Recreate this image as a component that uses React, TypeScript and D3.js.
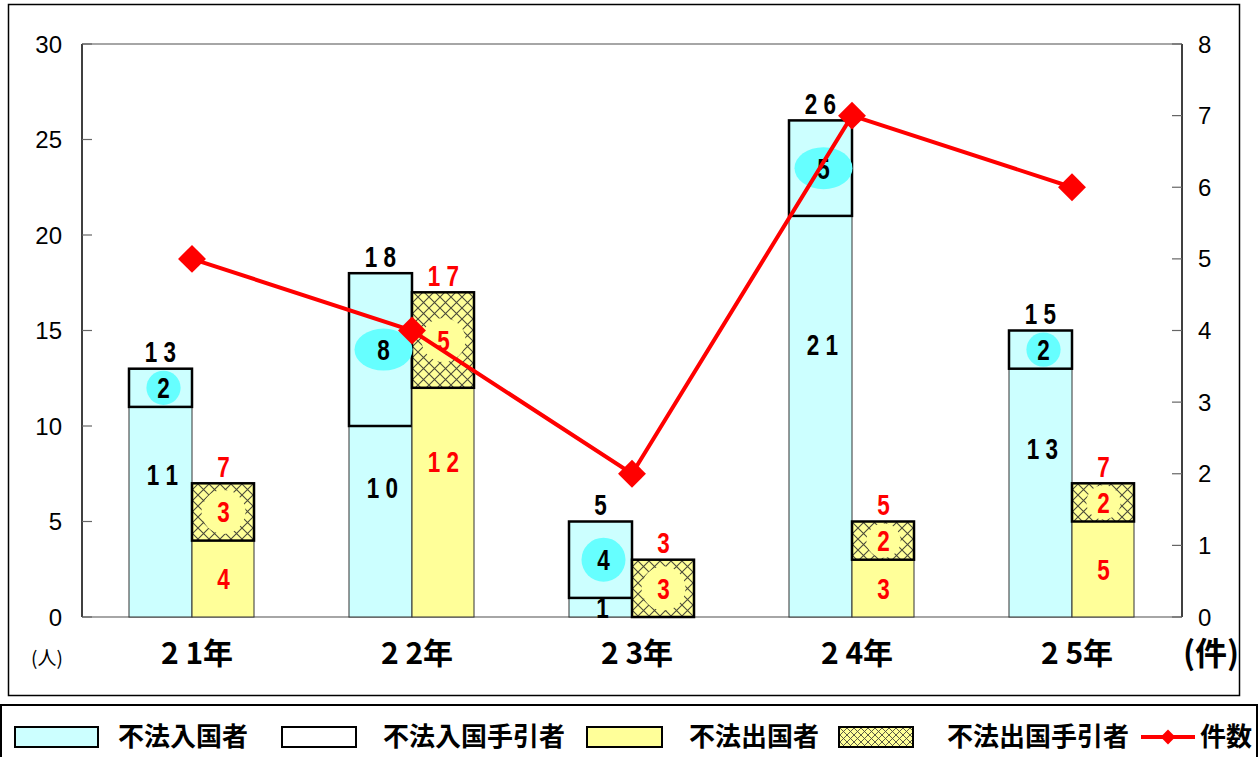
import React from 'react';
import * as d3 from 'd3';

const years = ['21', '22', '23', '24', '25'];
const illegalEntrants = [11, 10, 1, 21, 13];
const entryFacilitators = [2, 8, 4, 5, 2];
const illegalDepartures = [4, 12, 0, 3, 5];
const departureFacilitators = [3, 5, 3, 2, 2];
const caseCounts = [5, 4, 2, 7, 6];
const leftTicks = [0, 5, 10, 15, 20, 25, 30];
const rightTicks = [0, 1, 2, 3, 4, 5, 6, 7, 8];
const legendLabels = ['不法入国者', '不法入国手引者', '不法出国者', '不法出国手引者', '件数'];

const CJK = "'Noto Sans CJK JP', sans-serif";
const SANS = "'Liberation Sans', Arial, sans-serif";

const spaced = (v: number) => String(v).split('').join(' ');

function Num({ x, y, v, color }: { x: number; y: number; v: number; color: string }) {
  // y is visual centre of the digits
  return (
    <text
      transform={`translate(${x},${y + 10.5}) scale(0.75,1)`}
      textAnchor="middle"
      fontFamily={SANS}
      fontWeight="bold"
      fontSize={30}
      fill={color}
    >
      {spaced(v)}
    </text>
  );
}

export default function App() {
  const W = 1259;
  const H = 757;
  const x = d3.scaleBand<string>().domain(years).range([82, 1182]).padding(0);
  const yL = d3.scaleLinear().domain([0, 30]).range([617, 44]);
  const yR = d3.scaleLinear().domain([0, 8]).range([617, 44]);
  const bw = 63;
  const cx = (i: number) => (x(years[i]) as number) + x.bandwidth() / 2;
  const linePath = d3
    .line<number>()
    .x((_, i) => cx(i))
    .y((d) => yR(d))(caseCounts) as string;
  const diamond = d3.symbol().type(d3.symbolSquare).size(390)() as string;
  const smallDiamond = d3.symbol().type(d3.symbolSquare).size(110)() as string;

  return (
    <svg
      width={W}
      height={H}
      style={{ position: 'absolute', left: 0, top: 0, background: '#fff' }}
    >
      <defs>
        <pattern id="hatch" patternUnits="userSpaceOnUse" width={11} height={11}>
          <rect width={11} height={11} fill="#ffff99" />
          <path d="M0,0L11,11M11,0L0,11" stroke="#4a4a3a" strokeWidth={1.1} />
        </pattern>
        <pattern id="hatchSmall" patternUnits="userSpaceOnUse" width={7} height={7}>
          <rect width={7} height={7} fill="#ffff99" />
          <path d="M0,0L7,7M7,0L0,7" stroke="#4a4a3a" strokeWidth={0.9} />
        </pattern>
      </defs>

      {/* chart frame */}
      <rect x={8.5} y={4.5} width={1231} height={691} fill="#fff" stroke="#000" strokeWidth={1.5} />

      {/* plot frame */}
      <line x1={82} x2={1182} y1={44} y2={44} stroke="#888" strokeWidth={1.5} />
      <line x1={82} x2={1182} y1={617} y2={617} stroke="#888" strokeWidth={1.5} />
      <line x1={82} x2={82} y1={44} y2={617} stroke="#000" strokeWidth={1.5} />
      <line x1={1182} x2={1182} y1={44} y2={617} stroke="#000" strokeWidth={1.5} />

      {leftTicks.map((t) => (
        <g key={'l' + t}>
          <line x1={82} x2={92} y1={yL(t)} y2={yL(t)} stroke="#666" strokeWidth={1.2} />
          <text x={62} y={yL(t) + 8.5} textAnchor="end" fontFamily={SANS} fontSize={24} fill="#000">
            {t}
          </text>
        </g>
      ))}
      {rightTicks.map((t) => (
        <g key={'r' + t}>
          <line x1={1172} x2={1182} y1={yR(t)} y2={yR(t)} stroke="#666" strokeWidth={1.2} />
          <text x={1198} y={yR(t) + 8.5} textAnchor="start" fontFamily={SANS} fontSize={24} fill="#000">
            {t}
          </text>
        </g>
      ))}
      <text x={47} y={665} textAnchor="middle" fontFamily={CJK} fontSize={19} fill="#000">
        (人)
      </text>
      <text x={1211} y={665} textAnchor="middle" fontFamily={CJK} fontSize={32} fontWeight="bold" fill="#000">
        (件)
      </text>

      {/* bars */}
      {years.map((yr, i) => {
        const c = cx(i);
        const base1 = illegalEntrants[i];
        const tot1 = base1 + entryFacilitators[i];
        const base2 = illegalDepartures[i];
        const tot2 = base2 + departureFacilitators[i];
        const seg1 = yL(base1) - yL(tot1);
        const seg2 = yL(base2) - yL(tot2);
        const wide = entryFacilitators[i] >= 5;
        return (
          <g key={yr}>
            <rect x={c - bw} y={yL(tot1)} width={bw} height={yL(0) - yL(tot1)} fill="#ccffff" stroke="#333" strokeWidth={1} />
            <rect x={c - bw} y={yL(tot1)} width={bw} height={seg1} fill="none" stroke="#000" strokeWidth={2.5} />
            {base2 > 0 && (
              <rect x={c} y={yL(base2)} width={bw - 1} height={yL(0) - yL(base2)} fill="#ffff99" stroke="#333" strokeWidth={1} />
            )}
            <rect x={c} y={yL(tot2)} width={bw - 1} height={seg2} fill="url(#hatch)" stroke="#000" strokeWidth={2.5} />

            <ellipse
              cx={c - bw / 2 + 3}
              cy={yL(base1 + entryFacilitators[i] / 2)}
              rx={wide ? 29 : Math.min(22, seg1 / 2 - 2)}
              ry={Math.min(wide ? 21 : 22, seg1 / 2 - 2)}
              fill="#66ffff"
            />
            <circle cx={c + bw / 2} cy={yL(base2 + departureFacilitators[i] / 2)} r={Math.min(22, seg2 / 2 - 2)} fill="#ffff99" />

            <Num x={c - bw / 2 + 3} y={yL(base1 + entryFacilitators[i] / 2)} v={entryFacilitators[i]} color="#000" />
            <Num x={c + bw / 2} y={yL(base2 + departureFacilitators[i] / 2)} v={departureFacilitators[i]} color="#ff0000" />
            <Num x={c - bw / 2 + 2} y={yL(base1 > 5 ? base1 * 0.68 : base1 / 2)} v={base1} color="#000" />
            {base2 > 0 && (
              <Num x={c + bw / 2} y={yL(base2 > 5 ? base2 * 0.68 : base2 / 2)} v={base2} color="#ff0000" />
            )}
            <Num x={c - bw / 2} y={yL(tot1) - 17} v={tot1} color="#000" />
            <Num x={c + bw / 2} y={yL(tot2) - 17} v={tot2} color="#ff0000" />

            <text x={c + 5} y={664} textAnchor="middle" fontFamily={CJK} fontWeight="bold" fontSize={30} fill="#000">
              {spaced(Number(yr))}年
            </text>
          </g>
        );
      })}

      {/* line */}
      <path d={linePath} fill="none" stroke="#ff0000" strokeWidth={4} />
      {caseCounts.map((v, i) => (
        <path key={'m' + i} d={diamond} transform={`translate(${cx(i)},${yR(v)}) rotate(45)`} fill="#ff0000" />
      ))}

      {/* legend */}
      <rect x={1} y={705} width={1256} height={60} fill="#fff" stroke="#000" strokeWidth={2} />
      <rect x={15} y={727} width={83} height={20} fill="#ccffff" stroke="#000" strokeWidth={2} />
      <text x={118} y={746} fontFamily={CJK} fontWeight="bold" fontSize={26}>{legendLabels[0]}</text>
      <rect x={282} y={727} width={74} height={20} fill="#fff" stroke="#000" strokeWidth={2} />
      <text x={383} y={746} fontFamily={CJK} fontWeight="bold" fontSize={26}>{legendLabels[1]}</text>
      <rect x={587} y={727} width={75} height={20} fill="#ffff99" stroke="#000" strokeWidth={2} />
      <text x={689} y={746} fontFamily={CJK} fontWeight="bold" fontSize={26}>{legendLabels[2]}</text>
      <rect x={839} y={727} width={74} height={20} fill="url(#hatchSmall)" stroke="#000" strokeWidth={2} />
      <text x={947} y={746} fontFamily={CJK} fontWeight="bold" fontSize={26}>{legendLabels[3]}</text>
      <line x1={1141} x2={1195} y1={737} y2={737} stroke="#ff0000" strokeWidth={4} />
      <path d={smallDiamond} transform="translate(1168,737) rotate(45)" fill="#ff0000" />
      <text x={1200} y={746} fontFamily={CJK} fontWeight="bold" fontSize={26}>{legendLabels[4]}</text>
    </svg>
  );
}
